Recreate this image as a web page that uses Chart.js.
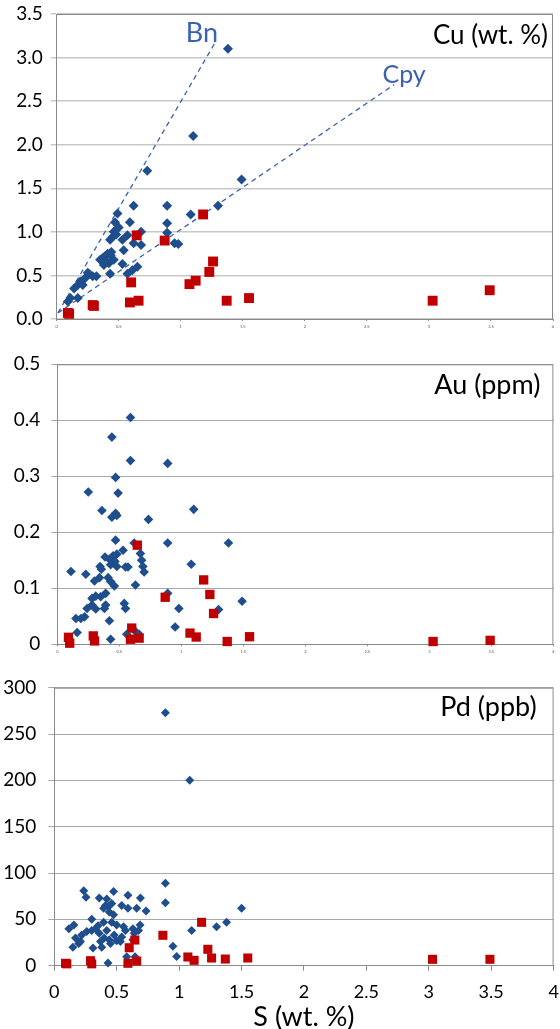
<!DOCTYPE html>
<html>
<head>
<meta charset="utf-8">
<script src="https://cdn.jsdelivr.net/npm/chart.js@4.4.1/dist/chart.umd.min.js"></script>
<style>
  body { margin: 0; background: #fff; }
  canvas { position: absolute; left: 0; }
</style>
</head>
<body>
<canvas id="cuChart" width="560" height="330" style="top:0"></canvas>
<canvas id="auChart" width="560" height="330" style="top:330px"></canvas>
<canvas id="pdChart" width="560" height="369" style="top:660px"></canvas>
<script>
// shared x ticks (S wt. %)
const sTicks = [0, 0.5, 1, 1.5, 2, 2.5, 3, 3.5, 4];

// red squares: same samples in every panel
const redS  = [0.09, 0.10, 0.29, 0.30, 0.60, 0.59, 0.66, 0.645, 0.87, 1.07, 1.12, 1.18, 1.23, 1.26, 1.37, 1.55, 3.03, 3.49];
const redCu = [0.07, 0.06, 0.16, 0.15, 0.42, 0.19, 0.21, 0.96, 0.90, 0.40, 0.44, 1.20, 0.54, 0.66, 0.21, 0.24, 0.21, 0.33];
const redAu = [0.0125, 0.002, 0.015, 0.006, 0.029, 0.009, 0.011, 0.177, 0.084, 0.020, 0.013, 0.115, 0.089, 0.055, 0.005, 0.0135, 0.005, 0.007];
const redPd = [2.6, 2.0, 5.4, 2.0, 19.4, 2.6, 5.0, 27.7, 32.8, 9.4, 5.8, 46.8, 17.7, 8.3, 7.2, 8.3, 6.9, 6.9];

// blue diamonds [S, value]
const cuBlue = [
  [1.38, 3.10], [1.10, 2.10], [0.73, 1.70], [1.49, 1.60], [0.62, 1.30], [0.89, 1.30], [1.30, 1.30], [1.08, 1.20],
  [0.89, 1.10], [0.89, 0.99], [0.95, 0.87], [0.98, 0.86], [0.49, 1.21], [0.47, 1.11], [0.59, 1.11], [0.46, 1.00],
  [0.45, 0.94], [0.43, 0.91], [0.68, 1.00], [0.53, 0.91], [0.57, 0.96], [0.62, 0.87], [0.68, 0.85], [0.54, 0.79],
  [0.39, 0.72], [0.435, 0.73], [0.35, 0.68], [0.38, 0.62], [0.42, 0.64], [0.46, 0.68], [0.41, 0.75], [0.37, 0.70],
  [0.44, 0.77], [0.40, 0.66], [0.53, 0.63], [0.43, 0.52], [0.65, 0.60], [0.61, 0.56], [0.57, 0.52], [0.26, 0.52],
  [0.29, 0.49], [0.23, 0.47], [0.32, 0.49], [0.25, 0.53], [0.19, 0.43], [0.17, 0.39], [0.21, 0.39], [0.14, 0.35],
  [0.11, 0.24], [0.17, 0.24], [0.09, 0.20], [0.48, 0.97], [0.50, 1.05]
];
const auBlue = [
  [0.59, 0.405], [0.44, 0.370], [0.59, 0.328], [0.89, 0.323], [0.47, 0.298], [0.25, 0.272], [0.49, 0.270], [1.10, 0.241],
  [0.36, 0.239], [0.47, 0.234], [0.44, 0.227], [0.48, 0.230], [0.735, 0.223], [0.47, 0.186], [0.62, 0.181], [0.89, 0.181],
  [1.38, 0.181], [0.53, 0.168], [0.385, 0.156], [0.42, 0.152], [0.45, 0.158], [0.48, 0.161], [0.43, 0.142], [0.465, 0.148],
  [0.48, 0.139], [0.67, 0.162], [0.68, 0.150], [0.69, 0.139], [0.70, 0.129], [0.345, 0.139], [0.355, 0.134], [0.55, 0.138],
  [0.57, 0.138], [0.11, 0.130], [0.23, 0.125], [0.30, 0.113], [0.34, 0.119], [0.41, 0.119], [0.43, 0.112], [0.46, 0.104],
  [0.63, 0.106], [1.08, 0.143], [0.39, 0.091], [0.35, 0.085], [0.31, 0.086], [0.28, 0.082], [0.89, 0.091], [0.24, 0.064],
  [0.28, 0.070], [0.31, 0.063], [0.38, 0.064], [0.39, 0.070], [0.54, 0.073], [0.55, 0.064], [0.98, 0.064], [1.30, 0.062],
  [1.49, 0.077], [0.15, 0.046], [0.19, 0.046], [0.22, 0.049], [0.42, 0.042], [0.95, 0.031], [0.16, 0.021], [0.43, 0.009],
  [0.56, 0.018], [0.63, 0.023], [0.66, 0.018]
];
const pdBlue = [
  [0.89, 273], [1.085, 200], [0.89, 89], [0.89, 68], [1.50, 62], [1.38, 47], [1.30, 42], [1.10, 38], [0.95, 21], [0.98, 10],
  [0.236, 81], [0.254, 74], [0.475, 80], [0.36, 73], [0.42, 72], [0.59, 76], [0.69, 73],
  [0.41, 65], [0.435, 64], [0.46, 67], [0.395, 62], [0.44, 58], [0.54, 65], [0.59, 62], [0.66, 62], [0.735, 59],
  [0.475, 55], [0.30, 50], [0.117, 40], [0.157, 44], [0.26, 37], [0.30, 38], [0.33, 40],
  [0.395, 47], [0.46, 47], [0.50, 44], [0.555, 42], [0.57, 38], [0.63, 40], [0.687, 44], [0.675, 38],
  [0.36, 35], [0.40, 30], [0.44, 28], [0.48, 33], [0.50, 27], [0.45, 24], [0.37, 26], [0.42, 38], [0.35, 43],
  [0.17, 30], [0.196, 24], [0.149, 20], [0.22, 33], [0.21, 26],
  [0.31, 19], [0.38, 20], [0.53, 26], [0.54, 31], [0.64, 35], [0.63, 28],
  [0.43, 3], [0.58, 9.7], [0.647, 9.7]
];

// mineral ratio lines in the Cu panel
const bnLine  = [[0.01, 0.07], [1.28, 3.18]];
const cpyLine = [[0.01, 0.07], [2.72, 2.69]];

const FONT = "Lato, 'Open Sans', sans-serif";
const BLUE = "#1f4e8c";
const RED = "#c00000";
const LINE_BLUE = "#3b63ad";

const pts = (pairs) => pairs.map(([x, y]) => ({ x, y }));
const zip = (xs, ys) => xs.map((x, i) => ({ x, y: ys[i] }));

// frame + panel label + line names
const panelDecor = {
  id: "panelDecor",
  beforeDatasetsDraw(chart, args, opts) {
    const { ctx, chartArea: a } = chart;
    ctx.save();
    ctx.strokeStyle = opts.frameColor;
    ctx.lineWidth = 1;
    ctx.beginPath();
    ctx.moveTo(a.left, a.top + 0.5);
    ctx.lineTo(a.right - 0.5, a.top + 0.5);
    ctx.lineTo(a.right - 0.5, a.bottom);
    ctx.stroke();
    ctx.restore();
  },
  afterDatasetsDraw(chart, args, opts) {
    const { ctx, chartArea: a, scales } = chart;
    ctx.save();
    ctx.fillStyle = "#000";
    ctx.font = `${opts.titleSize}px ${FONT}`;
    ctx.textAlign = "right";
    ctx.textBaseline = "middle";
    ctx.fillText(opts.title, a.right - opts.titleDx, a.top + opts.titleDy);
    (opts.notes || []).forEach((n) => {
      ctx.fillStyle = LINE_BLUE;
      ctx.font = `${n.size}px ${FONT}`;
      ctx.textAlign = "center";
      ctx.fillText(n.text, scales.x.getPixelForValue(n.x), scales.y.getPixelForValue(n.y));
    });
    ctx.restore();
  },
};

function makePanel(id, cfg) {
  const ctx = document.getElementById(id).getContext("2d");
  const datasets = [
    {
      label: "red",
      data: cfg.red,
      pointStyle: "rect",
      pointRadius: cfg.redR,
      pointBackgroundColor: RED,
      pointBorderColor: RED,
      pointBorderWidth: 0,
      order: 1,
      clip: false,
    },
    {
      label: "blue",
      data: cfg.blue,
      pointStyle: "rectRot",
      pointRadius: cfg.blueR,
      pointBackgroundColor: BLUE,
      pointBorderColor: BLUE,
      pointBorderWidth: 0,
      order: 2,
      clip: false,
    },
  ];
  (cfg.lines || []).forEach((l) => {
    datasets.push({
      label: l.name,
      data: pts(l.data),
      showLine: true,
      pointRadius: 0,
      borderColor: LINE_BLUE,
      borderWidth: 1.3,
      borderDash: [5, 4],
      order: 3,
    });
  });

  return new Chart(ctx, {
    type: "scatter",
    data: { datasets },
    options: {
      responsive: false,
      animation: false,
      events: [],
      layout: { padding: { top: cfg.padTop, right: cfg.padRight, left: 0, bottom: 0 } },
      plugins: {
        legend: { display: false },
        tooltip: { enabled: false },
        panelDecor: {
          frameColor: "#8a8a8a",
          title: cfg.title,
          titleSize: cfg.titleSize,
          titleDx: cfg.titleDx,
          titleDy: cfg.titleDy,
          notes: cfg.notes,
        },
      },
      scales: {
        x: {
          type: "linear",
          min: 0,
          max: 4,
          afterBuildTicks: (s) => { s.ticks = sTicks.map((v) => ({ value: v })); },
          afterFit: (s) => { s.height = cfg.xHeight; s.paddingLeft = 0; s.paddingRight = 0; },
          grid: { drawOnChartArea: false, drawTicks: true, tickLength: cfg.xTickLen, color: "#8a8a8a" },
          border: { color: "#8a8a8a", width: 1 },
          ticks: {
            font: { family: FONT, size: cfg.xFont },
            color: cfg.xFont > 6 ? "#000" : "#555",
            padding: cfg.xPad,
            maxRotation: 0,
            autoSkip: false,
            callback: (v) => String(v),
          },
          title: cfg.xTitle
            ? { display: true, text: cfg.xTitle, font: { family: FONT, size: 27, lineHeight: 0.9 }, color: "#000", padding: 0 }
            : { display: false },
        },
        y: {
          type: "linear",
          min: 0,
          max: cfg.yMax,
          afterBuildTicks: (s) => { s.ticks = cfg.yTicks.map((v) => ({ value: v })); },
          afterFit: (s) => { s.width = cfg.yWidth; s.paddingTop = 0; s.paddingBottom = 0; },
          grid: { color: cfg.gridColor, lineWidth: cfg.gridWidth, tickLength: 6, drawTicks: true },
          border: { color: "#8a8a8a", width: 1 },
          ticks: {
            font: { family: FONT, size: 19 },
            color: "#000",
            padding: cfg.yPad,
            callback: cfg.yFmt,
          },
        },
      },
    },
    plugins: [panelDecor],
  });
}

makePanel("cuChart", {
  red: zip(redS, redCu),
  blue: pts(cuBlue),
  redR: 7,
  blueR: 5,
  lines: [{ name: "Bn", data: bnLine }, { name: "Cpy", data: cpyLine }],
  notes: [{ text: "Bn", x: 1.17, y: 3.28, size: 27 }, { text: "Cpy", x: 2.80, y: 2.80, size: 25 }],
  yMax: 3.5,
  yTicks: [0, 0.5, 1, 1.5, 2, 2.5, 3, 3.5],
  yFmt: (v) => v.toFixed(1),
  padTop: 14,
  padRight: 3.3,
  yWidth: 56.7,
  xHeight: 11,
  xFont: 4,
  xTickLen: 2,
  xPad: 3,
  yPad: 8,
  gridColor: "#c8c8c8",
  gridWidth: 1.5,
  title: "Cu (wt. %)",
  titleSize: 26,
  titleDx: 5,
  titleDy: 22,
});

makePanel("auChart", {
  red: zip(redS, redAu),
  blue: pts(auBlue),
  redR: 6.6,
  blueR: 4.8,
  yMax: 0.5,
  yTicks: [0, 0.1, 0.2, 0.3, 0.4, 0.5],
  yFmt: (v) => (v === 0 ? "0" : v.toFixed(1)),
  padTop: 34.3,
  padRight: 3.7,
  yWidth: 57.3,
  xHeight: 15.7,
  xFont: 4,
  xTickLen: 2,
  xPad: 3,
  yPad: 11,
  gridColor: "#a8a8a8",
  gridWidth: 1,
  title: "Au (ppm)",
  titleSize: 27,
  titleDx: 13,
  titleDy: 21,
});

makePanel("pdChart", {
  red: zip(redS, redPd),
  blue: pts(pdBlue),
  redR: 6.4,
  blueR: 4.5,
  yMax: 300,
  yTicks: [0, 50, 100, 150, 200, 250, 300],
  yFmt: (v) => String(v),
  padTop: 27.7,
  padRight: 2.7,
  yWidth: 54.3,
  xHeight: 63.3,
  xFont: 18,
  xTickLen: 5,
  xPad: 10.5,
  yPad: 12,
  gridColor: "#a8a8a8",
  gridWidth: 1,
  title: "Pd (ppb)",
  titleSize: 27,
  titleDx: 17,
  titleDy: 20,
  xTitle: "S (wt. %)",
});
</script>
</body>
</html>
